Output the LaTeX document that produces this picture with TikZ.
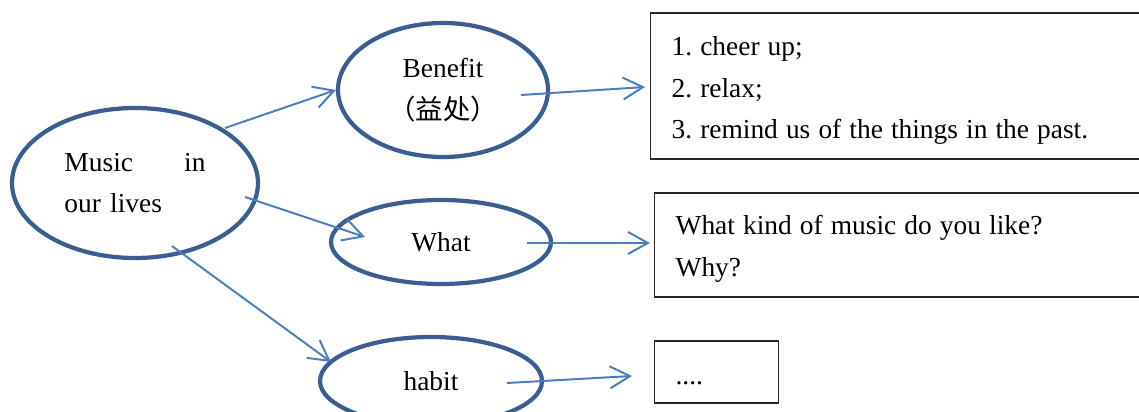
\documentclass[tikz,border=0pt]{standalone}
\usepackage{fontspec}
\setmainfont{Liberation Serif}
\newfontfamily\cjk{Noto Sans CJK SC}
\usepackage{xcolor}
\definecolor{ring-blue}{RGB}{58,94,145}
\definecolor{link-blue}{RGB}{74,126,190}
\definecolor{box-gray}{RGB}{40,40,40}
\usetikzlibrary{shapes.geometric,arrows.meta}
\frenchspacing
\newcommand{\mapfont}{\fontsize{19.5pt}{29.5pt}\selectfont}

\begin{document}
\begin{tikzpicture}[
    x=0.025cm, y=-0.025cm,
    idea/.style={
        ellipse,
        draw=ring-blue,
        line width=3pt,
        inner sep=0pt,
        align=center,
        font=\mapfont
    },
    note box/.style={
        rectangle,
        draw=box-gray,
        line width=0.9pt,
        inner sep=0pt,
        align=left,
        font=\mapfont,
        execute at begin node={\spaceskip=0.295em plus 0.1em minus 0.05em\relax}
    },
    link/.style={
        draw=link-blue,
        line width=1.4pt,
        -{Straight Barb[length=0.5cm,width=0.55cm,line width=1.4pt]}
    }
]

% picture frame (boxes run off the right edge)
\path[use as bounding box, clip] (0,0) rectangle (1139,412);

% === IDEAS ===
\node[idea, minimum width=246*0.025cm, minimum height=150*0.025cm,
      text width=141*0.025cm, align=left] (music) at (135,183)
    {Music\hfill in\\our lives};
\node[idea, minimum width=210*0.025cm, minimum height=134*0.025cm] (benefit) at (443,90)
    {Benefit\\{\cjk （益处）}};
\node[idea, minimum width=220*0.025cm, minimum height=84*0.025cm] (what) at (441,242) {What};
\node[idea, minimum width=222*0.025cm, minimum height=88*0.025cm] (habit) at (431,381) {habit};

% === NOTES ===
\node[note box, minimum width=520*0.025cm, minimum height=146*0.025cm,
      text width=478*0.025cm, text height=0pt, text depth=1.5cm, anchor=west] (effects) at (650,86)
    {1. cheer up;\\2. relax;\\3. remind us of the things in the past.};
\node[note box, minimum width=520*0.025cm, minimum height=104*0.025cm,
      text width=478*0.025cm, text height=0pt, text depth=0.5cm, anchor=west] (questions) at (654,245)
    {What kind of music do you like?\\Why?};
\node[note box, minimum width=124*0.025cm, minimum height=62*0.025cm,
      text width=82*0.025cm, text height=0.6cm, text depth=0pt, anchor=west] (more) at (654,372) {....};

% === LINKS ===
\draw[link] ([shift={(90,-55)}]music.center) -- (benefit.west);
\draw[link] ([shift={(110,14)}]music.center) -- ([shift={(-76,-5)}]what.center);
\draw[link] ([shift={(37,63)}]music.center) -- ([shift={(-100,-19)}]habit.center);
\draw[link] ([shift={(78,5)}]benefit.center) -- ([shift={(-5,1)}]effects.west);
\draw[link] ([shift={(86,1)}]what.center) -- ([shift={(-4,-2)}]questions.west);
\draw[link] ([shift={(76,2)}]habit.center) -- ([shift={(-22,4)}]more.west);

\end{tikzpicture}
\end{document}
